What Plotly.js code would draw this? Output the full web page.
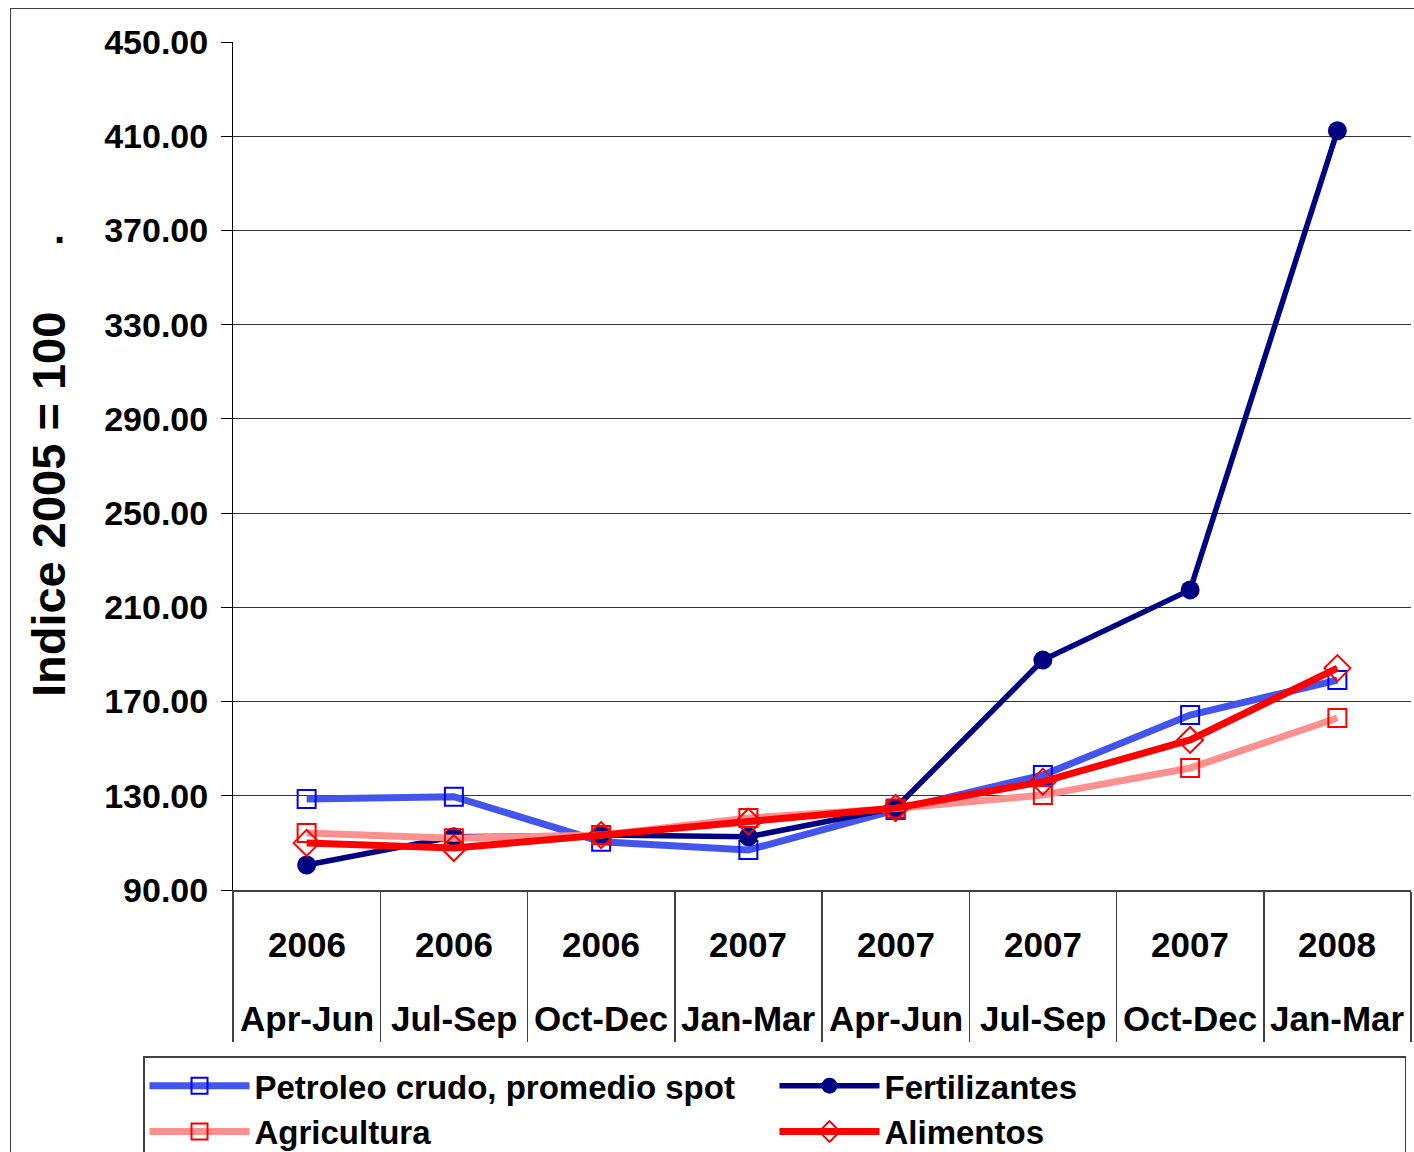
<!DOCTYPE html>
<html>
<head>
<meta charset="utf-8">
<script src="https://cdn.plot.ly/plotly-3.0.1.min.js"></script>
<style>
  html, body { margin: 0; padding: 0; background: #fff; overflow: hidden; }
  #chart { width: 1414px; height: 1152px; }
  #frame { position: absolute; left: 10px; top: 8px; width: 1500px; height: 1300px;
           border: 1.5px solid #404040; pointer-events: none; }
</style>
</head>
<body>
<div id="chart"></div>
<div id="frame"></div>
<script>
const categories = ["2006 Apr-Jun", "2006 Jul-Sep", "2006 Oct-Dec", "2007 Jan-Mar",
                    "2007 Apr-Jun", "2007 Jul-Sep", "2007 Oct-Dec", "2008 Jan-Mar"];
const yearLabels = ["2006", "2006", "2006", "2007", "2007", "2007", "2007", "2008"];
const quarterLabels = ["Apr-Jun", "Jul-Sep", "Oct-Dec", "Jan-Mar", "Apr-Jun", "Jul-Sep", "Oct-Dec", "Jan-Mar"];

const petroleo      = [128.6, 129.6, 110.5, 107.0, 124.0, 138.8, 164.3, 179.1];
const fertilizantes = [100.6, 112.6, 113.3, 112.6, 124.8, 187.6, 217.4, 412.3];
const agricultura   = [114.2, 112.0, 113.3, 120.6, 124.6, 130.3, 141.8, 163.0];
const alimentos     = [110.0, 107.8, 113.3, 119.0, 124.8, 136.0, 153.7, 184.2];

const yTicks = [90, 130, 170, 210, 250, 290, 330, 370, 410, 450];
const yTickText = yTicks.map(v => v.toFixed(2));
const yTitle = "Indice 2005 = 100";

const FONT = "Liberation Sans, Arial, sans-serif";

const traces = [
  { x: categories, y: petroleo, name: "Petroleo crudo, promedio spot", mode: "lines+markers",
    line: { color: "#4455ee", width: 7 },
    marker: { symbol: "square-open", size: 18, color: "#0000ff", line: { width: 2, color: "#0000ff" } } },
  { x: categories, y: fertilizantes, name: "Fertilizantes", mode: "lines+markers",
    line: { color: "#000080", width: 5.5 },
    marker: { symbol: "circle", size: 19, color: "#000080" } },
  { x: categories, y: agricultura, name: "Agricultura", mode: "lines+markers",
    line: { color: "#ff9090", width: 7 },
    marker: { symbol: "square-open", size: 18, color: "#ff0000", line: { width: 2, color: "#ff0000" } } },
  { x: categories, y: alimentos, name: "Alimentos", mode: "lines+markers",
    line: { color: "#ff0000", width: 7 },
    marker: { symbol: "diamond-open", size: 20, color: "#ff0000", line: { width: 2, color: "#ff0000" } } }
];

const annotations = [];
categories.forEach((c, i) => {
  annotations.push({ x: c, xref: "x", y: -0.0637, yref: "paper", yanchor: "middle",
    text: "<b>" + yearLabels[i] + "</b>", showarrow: false,
    font: { family: FONT, size: 35, color: "#000" } });
  annotations.push({ x: c, xref: "x", y: -0.152, yref: "paper", yanchor: "middle",
    text: "<b>" + quarterLabels[i] + "</b>", showarrow: false,
    font: { family: FONT, size: 35, color: "#000" } });
});
annotations.push({ x: -0.157, xref: "paper", y: 0.454, yref: "paper", xanchor: "center", yanchor: "middle",
  text: "<b>" + yTitle + "</b>", textangle: -90, showarrow: false,
  font: { family: FONT, size: 47, color: "#000" } });
annotations.push({ x: -0.147, xref: "paper", y: 0.77, yref: "paper", xanchor: "center", yanchor: "middle",
  text: "<b>.</b>", showarrow: false, yshift: 8,
  font: { family: FONT, size: 40, color: "#000" } });

const layout = {
  width: 1414, height: 1152,
  margin: { l: 233, r: 3, t: 42, b: 262, autoexpand: false },
  paper_bgcolor: "rgba(0,0,0,0)", plot_bgcolor: "#fff",
  font: { family: FONT, color: "#000" },
  showlegend: true,
  legend: {
    orientation: "h", xref: "paper", yref: "paper",
    x: -0.0764, xanchor: "left", y: -0.196, yanchor: "top",
    bgcolor: "#fff", bordercolor: "#404040", borderwidth: 1.5,
    font: { family: FONT, size: 33, color: "#000", weight: "bold" },
    entrywidth: 515, entrywidthmode: "pixels", itemwidth: 100,
    traceorder: "normal"
  },
  xaxis: {
    type: "category", range: [-0.5, 7.5],
    showticklabels: false, showgrid: false,
    showline: true, linecolor: "#404040", linewidth: 1.5,
    ticks: "outside", tickson: "boundaries", ticklen: 150, tickcolor: "#404040", tickwidth: 1.5,
    fixedrange: true
  },
  yaxis: {
    range: [90, 450], tickvals: yTicks, ticktext: yTickText,
    tickfont: { family: FONT, size: 34, weight: "bold" },
    ticks: "outside", ticklen: 11, tickcolor: "#000", ticklabelstandoff: 6,
    showgrid: true, gridcolor: "#333", gridwidth: 1,
    showline: true, linecolor: "#000", linewidth: 1, zeroline: false,
    fixedrange: true
  },
  annotations: annotations
};

Plotly.newPlot("chart", traces, layout, { displayModeBar: false, staticPlot: true });
</script>
</body>
</html>
